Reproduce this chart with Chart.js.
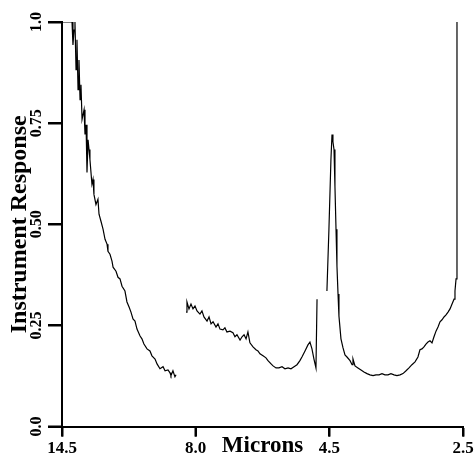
<!DOCTYPE html>
<html>
<head>
<meta charset="utf-8">
<script src="https://cdn.jsdelivr.net/npm/chart.js@4.4.0/dist/chart.umd.min.js"></script>
<style>
  html, body { margin: 0; padding: 0; background: #fff; }
  #wrap { width: 476px; height: 458px; }
</style>
</head>
<body>
<div id="wrap"><canvas id="spectrum"></canvas></div>
<script>
// x positions are in axis units: 0 = 14.5, 1 = 8.0, 2 = 4.5, 3 = 2.5 microns
const xTickLabels = ['14.5', '8.0', '4.5', '2.5'];
const yTickLabels = ['0.0', '0.25', '0.50', '0.75', '1.0'];

// long-wave segment
const posA = [0, 0.075, 0.082, 0.090, 0.097, 0.105, 0.112, 0.120, 0.127, 0.135, 0.142, 0.150, 0.165, 0.172, 0.180,
  0.187, 0.195, 0.202, 0.209, 0.224, 0.232, 0.239, 0.254, 0.269, 0.277, 0.292, 0.307, 0.322, 0.337, 0.344, 0.359,
  0.374, 0.382, 0.404, 0.419, 0.434, 0.449, 0.471, 0.486, 0.501, 0.516, 0.531, 0.546, 0.561, 0.584, 0.598, 0.613,
  0.636, 0.658, 0.673, 0.696, 0.711, 0.733, 0.756, 0.771, 0.793, 0.808, 0.815, 0.830, 0.845, 0.853];
const respA = [1.0, 1.0, 0.943, 0.980, 1.0, 0.882, 0.956, 0.833, 0.906, 0.808, 0.845, 0.759, 0.783, 0.722, 0.746,
  0.628, 0.709, 0.685, 0.660, 0.599, 0.611, 0.574, 0.549, 0.562, 0.525, 0.507, 0.488, 0.463, 0.451, 0.433, 0.426,
  0.409, 0.394, 0.384, 0.369, 0.365, 0.347, 0.335, 0.308, 0.296, 0.283, 0.266, 0.261, 0.241, 0.224, 0.217, 0.204,
  0.192, 0.187, 0.175, 0.167, 0.155, 0.143, 0.148, 0.138, 0.140, 0.133, 0.126, 0.138, 0.123, 0.128];

// middle segment up to the narrow spike
const posB = [0.928, 0.935, 0.950, 0.965, 0.980, 0.995, 1.010, 1.032, 1.047, 1.062, 1.085, 1.100, 1.115, 1.130,
  1.152, 1.167, 1.182, 1.204, 1.219, 1.234, 1.257, 1.279, 1.294, 1.309, 1.332, 1.347, 1.362, 1.377, 1.391, 1.406,
  1.429, 1.451, 1.466, 1.481, 1.504, 1.526, 1.541, 1.564, 1.579, 1.601, 1.623, 1.646, 1.668, 1.691, 1.713, 1.736,
  1.758, 1.780, 1.795, 1.818, 1.840, 1.855, 1.870, 1.885, 1.900, 1.908];
const respB = [0.283, 0.308, 0.291, 0.303, 0.291, 0.298, 0.286, 0.278, 0.286, 0.271, 0.261, 0.271, 0.254, 0.259,
  0.246, 0.254, 0.241, 0.239, 0.244, 0.234, 0.236, 0.232, 0.222, 0.227, 0.214, 0.222, 0.227, 0.217, 0.234, 0.207,
  0.197, 0.190, 0.187, 0.180, 0.175, 0.170, 0.163, 0.155, 0.150, 0.145, 0.145, 0.148, 0.143, 0.145, 0.143, 0.148,
  0.153, 0.163, 0.172, 0.187, 0.202, 0.209, 0.192, 0.167, 0.145, 0.315];

// 4.5 micron peak and short-wave end
const posC = [1.982, 1.997, 2.012, 2.020, 2.027, 2.035, 2.042, 2.050, 2.057, 2.065, 2.072, 2.087, 2.102, 2.117,
  2.132, 2.155, 2.170, 2.177, 2.192, 2.214, 2.237, 2.259, 2.282, 2.304, 2.327, 2.349, 2.372, 2.394, 2.416, 2.439,
  2.461, 2.484, 2.506, 2.529, 2.551, 2.574, 2.596, 2.618, 2.641, 2.663, 2.678, 2.693, 2.708, 2.723, 2.738, 2.753,
  2.768, 2.783, 2.798, 2.813, 2.828, 2.843, 2.858, 2.873, 2.888, 2.903, 2.918, 2.933, 2.940, 2.948, 2.955, 2.955];
const respC = [0.335, 0.488, 0.660, 0.722, 0.704, 0.685, 0.594, 0.488, 0.397, 0.328, 0.273, 0.217, 0.195, 0.177,
  0.172, 0.163, 0.153, 0.167, 0.150, 0.145, 0.140, 0.135, 0.131, 0.128, 0.126, 0.128, 0.128, 0.131, 0.128, 0.128,
  0.131, 0.128, 0.126, 0.128, 0.131, 0.138, 0.145, 0.153, 0.160, 0.172, 0.190, 0.192, 0.197, 0.204, 0.209, 0.212,
  0.207, 0.222, 0.236, 0.246, 0.259, 0.264, 0.271, 0.276, 0.283, 0.291, 0.303, 0.315, 0.335, 0.365, 0.562, 1.0];

const serif = '"Liberation Serif", "Times New Roman", serif';

function segment(xs, ys) {
    return {
        data: xs.map((x, i) => ({x: x, y: ys[i]})),
        borderColor: '#000',
        borderWidth: 1.2,
        pointRadius: 0,
        fill: false,
        tension: 0
    };
}

// outside tick marks, placed from the scales' own tick pixels
const tickMarks = {
    id: 'tickMarks',
    afterDraw(chart) {
        const c = chart.ctx;
        const xs = chart.scales.x;
        const ys = chart.scales.y;
        c.save();
        c.strokeStyle = '#000';
        c.lineWidth = 2;
        xs.ticks.forEach((t, i) => {
            const px = Math.round(xs.getPixelForTick(i));
            c.beginPath();
            c.moveTo(px, xs.top);
            c.lineTo(px, xs.top + 10);
            c.stroke();
        });
        ys.ticks.forEach((t, i) => {
            const py = Math.round(ys.getPixelForTick(i));
            c.beginPath();
            c.moveTo(ys.right - 14, py);
            c.lineTo(ys.right, py);
            c.stroke();
        });
        c.restore();
    }
};

const ctx = document.getElementById('spectrum').getContext('2d');
new Chart(ctx, {
    type: 'line',
    data: {
        datasets: [segment(posA, respA), segment(posB, respB), segment(posC, respC)]
    },
    plugins: [tickMarks],
    options: {
        responsive: true,
        maintainAspectRatio: false,
        animation: false,
        layout: { padding: { top: 22, right: 13, bottom: 0, left: 0 } },
        plugins: { legend: { display: false }, tooltip: { enabled: false } },
        scales: {
            x: {
                type: 'linear',
                min: 0,
                max: 3,
                ticks: {
                    stepSize: 1,
                    color: '#000',
                    padding: 2,
                    maxRotation: 0,
                    font: { family: serif, size: 17, weight: 'bold' },
                    callback: v => xTickLabels[v]
                },
                grid: { drawOnChartArea: false, tickLength: 10, tickWidth: 2, tickColor: '#000' },
                border: { color: '#000', width: 2 },
                title: {
                    display: true,
                    text: 'Microns',
                    color: '#000',
                    font: { family: serif, size: 23, weight: 'bold', lineHeight: 1.0 },
                    padding: { top: -26, bottom: 0 }
                }
            },
            y: {
                min: 0,
                max: 1,
                afterFit: scale => { scale.width = 62; },
                ticks: {
                    stepSize: 0.25,
                    color: '#000',
                    padding: -3,
                    minRotation: 90,
                    maxRotation: 90,
                    crossAlign: 'center',
                    font: { family: serif, size: 16, weight: 'bold' },
                    callback: v => yTickLabels[Math.round(v * 4)]
                },
                grid: { drawOnChartArea: false, tickLength: 14, tickWidth: 2, tickColor: '#000' },
                border: { color: '#000', width: 2 },
                title: {
                    display: true,
                    text: 'Instrument Response',
                    color: '#000',
                    font: { family: serif, size: 24, weight: 'bold', lineHeight: 1.0 },
                    padding: { top: 8, bottom: 0 }
                }
            }
        }
    }
});
</script>
</body>
</html>
